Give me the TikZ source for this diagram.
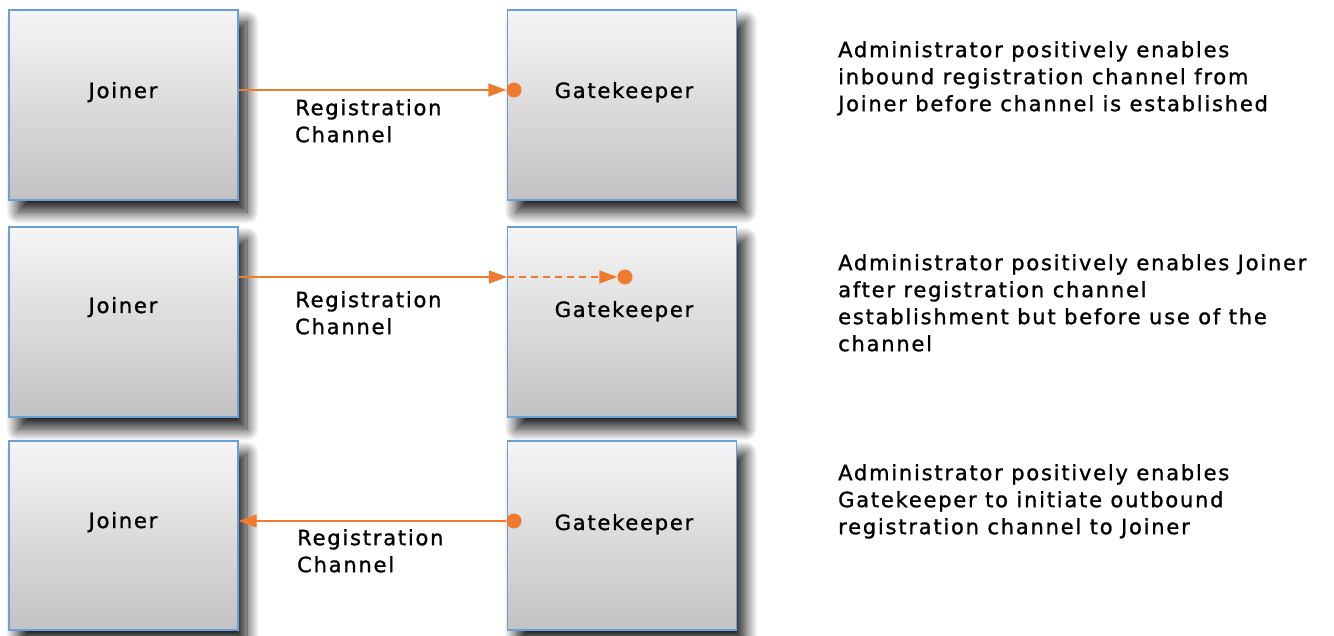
\documentclass[tikz,border=0pt]{standalone}
\usepackage{fontspec}
\setmainfont{DejaVu Sans}[LetterSpace=8.5,FakeBold=1.2]
\usetikzlibrary{arrows.meta,shadows.blur}
\definecolor{arrowc}{HTML}{EE7B30}
\definecolor{boxline}{HTML}{6A9FD8}
\definecolor{boxtop}{HTML}{F5F5F5}
\definecolor{boxbot}{HTML}{C2C2C2}
\tikzset{
  box/.style={draw=boxline, line width=1.2pt, top color=boxtop, bottom color=boxbot,
    minimum width=229pt, minimum height=190pt, inner sep=0pt,
    blur shadow={shadow xshift=9pt, shadow yshift=-12pt, shadow blur radius=12pt,
      shadow blur steps=18, shadow opacity=90}},
  boxlabel/.style={anchor=base, inner sep=0pt, font=\fontsize{21}{27}\selectfont},
  txt/.style={anchor=north west, align=left, inner sep=0pt, font=\fontsize{21}{27}\selectfont},
  conn/.style={draw=arrowc, line width=1.6pt, -{Triangle[length=18pt,width=13pt]}},
  dot/.style={circle, fill=arrowc, inner sep=0pt, minimum size=15pt},
}
\begin{document}
\begin{tikzpicture}[x=1pt,y=-1pt]
\useasboundingbox (0,0) rectangle (1334,636);
% boxes
\node[box] (j1) at (123.5,105) {};
\node[box] (g1) at (622,105) {};
\node[box] (j2) at (123.5,322) {};
\node[box] (g2) at (622,322) {};
\node[box, minimum height=189pt] (j3) at (123.5,535.5) {};
\node[box, minimum height=189pt] (g3) at (622,535.5) {};
% box labels
\node[boxlabel] (tj1) at (123,98) {Joiner};
\node[boxlabel] (tg1) at (624,98) {Gatekeeper};
\node[boxlabel] (tj2) at (123,313) {Joiner};
\node[boxlabel] (tg2) at (624,317) {Gatekeeper};
\node[boxlabel] (tj3) at (123,528) {Joiner};
\node[boxlabel] (tg3) at (624,530) {Gatekeeper};
% connectors
\node[dot] (d1) at (514,90) {};
\draw[conn] (j1.east |- d1) -- (d1.west);
\node[dot] (d2) at (625,277) {};
\draw[conn] (j2.east |- d2) -- (g2.west |- d2);
\draw[conn, dash pattern=on 7pt off 5pt] (g2.west |- d2) -- (d2.west);
\node[dot] (d3) at (514,521) {};
\draw[conn] (d3.west) -- (j3.east |- d3);
% channel labels
\node[txt] (l1) at (295,99) {Registration\\Channel};
\node[txt] (l2) at (295,291) {Registration\\Channel};
\node[txt] (l3) at (297,529) {Registration\\Channel};
% notes
\node[txt] (n1) at (838,41) {Administrator positively enables\\inbound registration channel from\\Joiner before channel is established};
\node[txt] (n2) at (838,254) {Administrator positively enables Joiner\\after registration channel\\establishment but before use of the\\channel};
\node[txt] (n3) at (838,464) {Administrator positively enables\\Gatekeeper to initiate outbound\\registration channel to Joiner};
\end{tikzpicture}
\end{document}
